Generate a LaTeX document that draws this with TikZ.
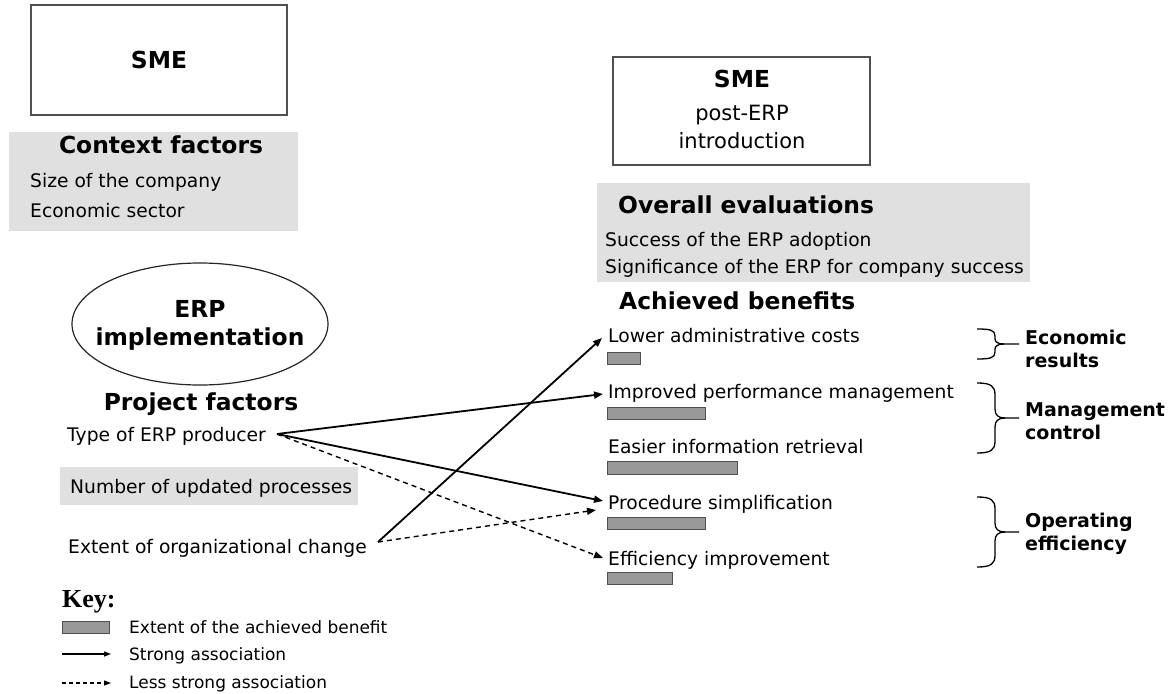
\documentclass[tikz,border=0pt]{standalone}
\usepackage{fontspec}
\setmainfont{DejaVu Sans}
\newfontfamily\keyfont{Liberation Serif}
\usetikzlibrary{arrows.meta,shapes.geometric,calc}
\definecolor{boxgray}{HTML}{E0E0E0}
\definecolor{bargray}{HTML}{999999}
\definecolor{edgegray}{HTML}{505050}
\tikzset{
  txt/.style={anchor=base west,inner sep=0pt,font=\fontsize{18.7}{22}\selectfont},
  hd/.style={anchor=base,inner sep=0pt,font=\bfseries\fontsize{23.4}{27}\selectfont},
  hdl/.style={anchor=base west,inner sep=0pt,font=\bfseries\fontsize{23.4}{27}\selectfont},
  boxtxt/.style={anchor=base,inner sep=0pt,font=\fontsize{21}{24}\selectfont},
  framebox/.style={draw=edgegray,line width=1.6pt,inner sep=0pt},
  graybox/.style={fill=boxgray,draw=none,inner sep=0pt},
  bar/.style={fill=bargray,draw=edgegray,line width=1pt,inner sep=0pt,anchor=north west},
  strong/.style={line width=1.8pt,-{Triangle[length=9pt,width=7pt]}},
  weak/.style={line width=1.4pt,dash pattern=on 5pt off 4pt,-{Triangle[length=9pt,width=7pt]}},
  bracel/.style={line width=1.3pt},
  grp/.style={anchor=west,inner sep=0pt,align=left,font=\bfseries\fontsize{19}{23}\selectfont},
  keytxt/.style={anchor=base west,inner sep=0pt,font=\fontsize{17}{20}\selectfont},
}
\begin{document}
\begin{tikzpicture}[x=1pt,y=-1pt]
\useasboundingbox (0,0) rectangle (1169,693);
\fill[white] (0,0) rectangle (1169,693);

% left top
\node[framebox,minimum width=256pt,minimum height=110pt] (sme1) at (159,60) {};
\node[hd] (sme1t) at (159,68) {SME};
\node[graybox,minimum width=289pt,minimum height=99pt] (ctx) at (153.5,181.5) {};
\node[hd] (ctxh) at (161,153) {Context factors};
\node[txt] (size) at (30,187) {Size of the company};
\node[txt] (econ) at (30,217) {Economic sector};

% right top
\node[framebox,minimum width=257pt,minimum height=108pt] (sme2) at (741.5,111) {};
\node[hd] (sme2t) at (742,87) {SME};
\node[boxtxt] (post) at (742,120) {post-ERP};
\node[boxtxt] (intro) at (742,148) {introduction};
\node[graybox,minimum width=433pt,minimum height=99pt] (ovb) at (813.5,232.5) {};
\node[hdl] (ovh) at (618,213) {Overall evaluations};
\node[txt] (succ) at (605,246) {Success of the ERP adoption};
\node[txt] (sign) at (605,273) {Significance of the ERP for company success};
\node[hdl] (ach) at (619,309) {Achieved benefits};

% ERP implementation
\node[ellipse,draw=black!85,line width=1.2pt,minimum width=256pt,minimum height=122pt,inner sep=0pt] (erpe) at (200,324) {};
\node[hd] (erp) at (200,317) {ERP};
\node[hd] (impl) at (200,345) {implementation};
\node[hd] (proj) at (201,410) {Project factors};
\node[txt] (type) at (67,441) {Type of ERP producer};
\node[graybox,minimum width=298pt,minimum height=38pt] (nupb) at (209,486) {};
\node[txt] (nup) at (70,493) {Number of updated processes};
\node[txt] (ext) at (68,553) {Extent of organizational change};

% benefits
\node[txt] (lac) at (608,342) {Lower administrative costs};
\node[bar,minimum width=33pt,minimum height=12pt] (b1) at (607,352) {};
\node[txt] (ipm) at (608,398) {Improved performance management};
\node[bar,minimum width=98pt,minimum height=12pt] (b2) at (607,407) {};
\node[txt] (eir) at (608,453) {Easier information retrieval};
\node[bar,minimum width=130pt,minimum height=13pt] (b3) at (607,461) {};
\node[txt] (ps) at (608,509) {Procedure simplification};
\node[bar,minimum width=98pt,minimum height=12pt] (b4) at (607,517) {};
\node[txt] (ei) at (608,565) {Efficiency improvement};
\node[bar,minimum width=65pt,minimum height=12pt] (b5) at (607,572) {};

% braces
\draw[bracel] (977,329) .. controls (990,329) and (995,330) .. (995,336) -- (995,339)
  .. controls (995,342) and (998,344) .. (1004,344) -- (1019,344);
\draw[bracel] (977,359) .. controls (990,359) and (995,358) .. (995,352) -- (995,349)
  .. controls (995,346) and (998,344) .. (1004,344);
\draw[bracel] (977,383) .. controls (991,383) and (995,386) .. (995,395) -- (995,409)
  .. controls (995,415) and (998,418) .. (1005,418) -- (1019,418);
\draw[bracel] (977,453) .. controls (991,453) and (995,450) .. (995,441) -- (995,427)
  .. controls (995,421) and (998,418) .. (1005,418);
\draw[bracel] (977,497) .. controls (991,497) and (995,500) .. (995,509) -- (995,523)
  .. controls (995,529) and (998,532) .. (1005,532) -- (1019,532);
\draw[bracel] (977,567) .. controls (991,567) and (995,564) .. (995,555) -- (995,541)
  .. controls (995,535) and (998,532) .. (1005,532);
\node[grp] (g1) at (1025,348.5) {Economic\\results};
\node[grp] (g2) at (1025,421.5) {Management\\control};
\node[grp] (g3) at (1025,534) {Operating\\efficiency};

% connectors
\coordinate (typeo) at (277,434);
\coordinate (exto) at (378,542);
\draw[strong] (typeo) -- ($(ipm.base west)+(-5,-4)$);
\draw[strong] (typeo) -- ($(ps.base west)+(-5,-8)$);
\draw[weak] (typeo) -- ($(ei.base west)+(-5,-7)$);
\draw[strong] (exto) -- ($(lac.base west)+(-6,-4)$);
\draw[weak] (exto) -- ($(ps.base west)+(-12,1)$);

% key
\node[anchor=base west,inner sep=0pt,font=\keyfont\bfseries\fontsize{26}{30}\selectfont] (key) at (62,607) {Key:};
\node[bar,minimum width=47pt,minimum height=12pt] (kb) at (62,621) {};
\node[keytxt] (k1) at (129,633) {Extent of the achieved benefit};
\coordinate (ks1) at (62,654);
\coordinate (ks2) at (111,654);
\draw[line width=1.3pt,-{Triangle[length=7pt,width=5pt]}] (ks1) -- (ks2);
\node[keytxt] (k2) at (129,660) {Strong association};
\coordinate (kd1) at (62,683);
\coordinate (kd2) at (111,683);
\draw[line width=1.1pt,dash pattern=on 4pt off 3pt,-{Triangle[length=7pt,width=5pt]}] (kd1) -- (kd2);
\node[keytxt] (k3) at (129,688) {Less strong association};
\end{tikzpicture}
\end{document}
